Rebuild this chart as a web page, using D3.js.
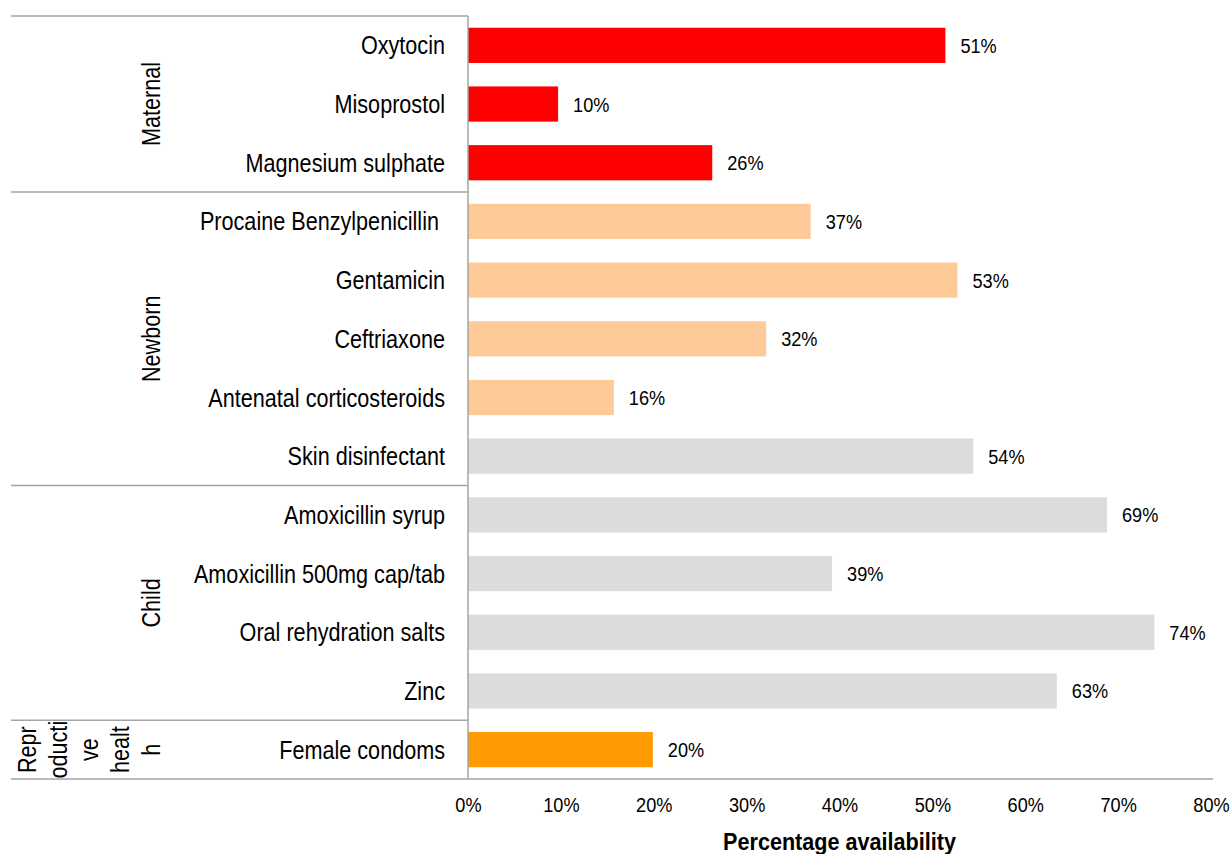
<!DOCTYPE html>
<html>
<head>
<meta charset="utf-8">
<script src="https://cdn.jsdelivr.net/npm/d3@7"></script>
<style>
  body { margin: 0; background: #fff; }
  text { font-family: "Liberation Sans", Arial, sans-serif; fill: #000; }
</style>
</head>
<body>
<div id="chart"></div>
<script>
// medicines, top to bottom
var medicines = ["Oxytocin", "Misoprostol", "Magnesium sulphate",
  "Procaine Benzylpenicillin ", "Gentamicin", "Ceftriaxone", "Antenatal corticosteroids",
  "Skin disinfectant", "Amoxicillin syrup", "Amoxicillin 500mg cap/tab",
  "Oral rehydration salts", "Zinc", "Female condoms"];
// share of facilities with the item available
var availability = [0.514, 0.097, 0.263, 0.369, 0.527, 0.321, 0.157,
  0.544, 0.688, 0.392, 0.739, 0.634, 0.199];
// colour family of each bar
var tones = ["red", "red", "red", "peach", "peach", "peach", "peach",
  "grey", "grey", "grey", "grey", "grey", "orange"];

var groupNames = ["Maternal", "Newborn", "Child", "Reproductive health"];
var groupSizes = [3, 5, 4, 1];
// the last group label is wrapped like in the source
var reproLines = ["Repr", "oducti", "ve", "healt", "h"];

var xTicks = [0, 0.1, 0.2, 0.3, 0.4, 0.5, 0.6, 0.7, 0.8];

var width = 1232, height = 854;
var squeeze = "scale(0.865,1)";   // the source font is a narrow face

var svg = d3.select("#chart").append("svg")
    .attr("width", width)
    .attr("height", height);

var x = d3.scaleLinear()
    .domain([0, 0.8])
    .range([468, 1211]);

var y = d3.scaleBand()
    .domain(medicines)
    .range([16, 779])
    .paddingInner(0.4)
    .paddingOuter(0.2);

var colour = d3.scaleOrdinal()
    .domain(["red", "peach", "grey", "orange"])
    .range(["#ff0000", "#fecb98", "#dbdcde", "#ff9a00"]);

var rows = medicines.map(function (m, i) {
  return { name: m, value: availability[i], tone: tones[i] };
});

// bars
svg.append("g").selectAll("rect")
    .data(rows)
    .enter()
    .append("rect")
    .attr("x", x(0))
    .attr("y", function (d) { return y(d.name); })
    .attr("width", function (d) { return x(d.value) - x(0); })
    .attr("height", y.bandwidth())
    .attr("fill", function (d) { return colour(d.tone); });

// value labels
svg.append("g").selectAll("text")
    .data(rows)
    .enter()
    .append("text")
    .attr("transform", function (d) {
      return "translate(" + (x(d.value) + 15) + "," + (y(d.name) + y.bandwidth() / 2 + 7.5) + ") " + squeeze;
    })
    .attr("font-size", 21)
    .text(function (d) { return Math.round(d.value * 100) + "%"; });

// category axis
var yAxis = svg.append("g")
    .attr("transform", "translate(468,0)")
    .call(d3.axisLeft(y).tickSize(0));
yAxis.select(".domain").remove();
yAxis.selectAll("text")
    .attr("x", null)
    .attr("dy", null)
    .attr("y", 9)
    .attr("transform", "translate(-23,0) " + squeeze)
    .attr("font-size", 25)
    .attr("font-family", null)
    .attr("fill", "#000")
    .style("white-space", "pre");

// x axis labels
var xAxis = svg.append("g")
    .attr("transform", "translate(0,779)")
    .call(d3.axisBottom(x).tickValues(xTicks).tickSize(0).tickFormat(d3.format(".0%")));
xAxis.select(".domain").remove();
xAxis.selectAll("text")
    .attr("y", 33)
    .attr("dy", null)
    .attr("transform", squeeze)
    .attr("font-size", 21)
    .attr("font-family", null)
    .attr("fill", "#000");

svg.append("text")
    .attr("transform", "translate(" + ((x(0) + x(0.8)) / 2) + ",850) scale(0.9,1)")
    .attr("text-anchor", "middle")
    .attr("font-size", 24)
    .attr("font-weight", "bold")
    .text("Percentage availability");

// group brackets
var lineColour = "#a5a5a5";
var bounds = [0];
groupSizes.forEach(function (n, i) { bounds.push(bounds[i] + n); });
var step = y.step();
var yEdge = function (k) { return 16 + k * step; };

svg.append("g").selectAll("line")
    .data(bounds)
    .enter()
    .append("line")
    .attr("x1", 11)
    .attr("x2", function (d, i) { return i == bounds.length - 1 ? x(0.8) + 2 : x(0); })
    .attr("y1", function (d) { return yEdge(d); })
    .attr("y2", function (d) { return yEdge(d); })
    .attr("stroke", lineColour)
    .attr("stroke-width", 1.5);

svg.append("line")
    .attr("x1", x(0)).attr("x2", x(0))
    .attr("y1", yEdge(0)).attr("y2", yEdge(medicines.length))
    .attr("stroke", lineColour)
    .attr("stroke-width", 1.5);

groupNames.forEach(function (g, i) {
  var cy = (yEdge(bounds[i]) + yEdge(bounds[i + 1])) / 2;
  var lines = i == groupNames.length - 1 ? reproLines : [g];
  lines.forEach(function (t, k) {
    var bx = 160 - (lines.length - 1 - k) * 31;
    svg.append("text")
        .attr("transform", "translate(" + bx + "," + cy + ") rotate(-90) " + squeeze)
        .attr("text-anchor", "middle")
        .attr("font-size", 25)
        .text(t);
  });
});
</script>
</body>
</html>
